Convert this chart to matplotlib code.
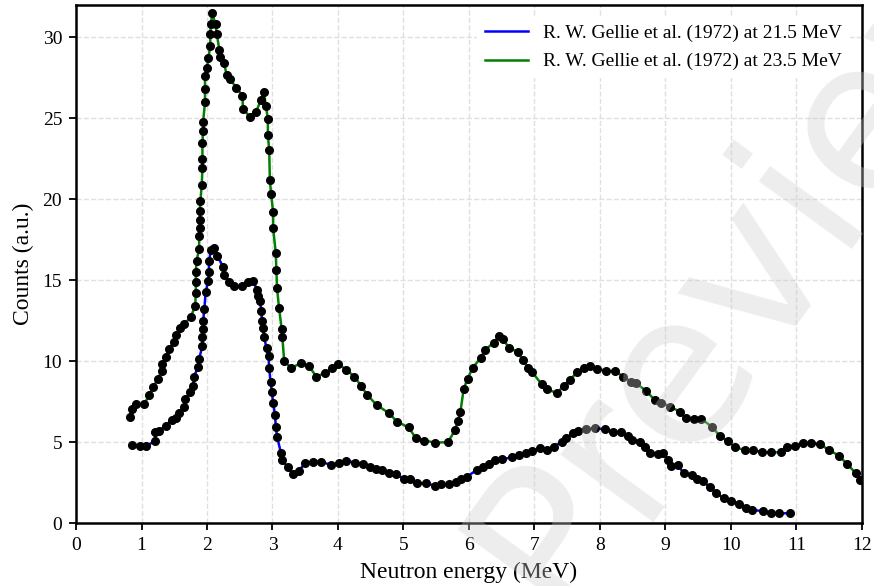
import matplotlib
matplotlib.use('Agg')
import matplotlib.pyplot as plt

# R. W. Gellie et al. (1972), 21.5 MeV
e_215 = [0.85, 0.97, 1.07, 1.21, 1.20, 1.27, 1.37, 1.46, 1.52, 1.58,
         1.65, 1.67, 1.74, 1.79, 1.80, 1.86, 1.88, 1.93, 1.93, 1.94,
         1.94, 1.96, 1.98, 2.02, 2.03, 2.03, 2.06, 2.11, 2.16, 2.25,
         2.26, 2.33, 2.41, 2.54, 2.63, 2.71, 2.76, 2.78, 2.81, 2.83,
         2.84, 2.85, 2.87, 2.91, 2.94, 2.95, 2.97, 2.99, 3.01, 3.04,
         3.05, 3.07, 3.13, 3.15, 3.23, 3.32, 3.40, 3.50, 3.62, 3.74,
         3.89, 4.02, 4.13, 4.26, 4.38, 4.49, 4.58, 4.67, 4.78, 4.89,
         5.01, 5.10, 5.20, 5.34, 5.48, 5.57, 5.69, 5.81, 5.88, 5.97,
         6.12, 6.21, 6.30, 6.40, 6.51, 6.66, 6.76, 6.87, 6.97, 7.08,
         7.20, 7.30, 7.42, 7.49, 7.59, 7.67, 7.79, 7.92, 8.08, 8.20,
         8.33, 8.43, 8.49, 8.61, 8.69, 8.76, 8.89, 8.96, 9.04, 9.09,
         9.19, 9.28, 9.41, 9.49, 9.57, 9.68, 9.78, 9.89, 10.00, 10.13,
         10.23, 10.33, 10.49, 10.61, 10.74, 10.90]
c_215 = [4.82, 4.76, 4.76, 5.07, 5.61, 5.71, 6.02, 6.37, 6.51, 6.78,
         7.19, 7.65, 8.08, 8.49, 9.01, 9.63, 10.14, 10.95, 11.46, 11.98,
         12.45, 13.23, 14.27, 14.98, 15.50, 16.16, 16.85, 16.99, 16.47, 15.81,
         15.34, 14.89, 14.61, 14.61, 14.89, 14.97, 14.41, 14.04, 13.69, 13.07,
         12.45, 12.04, 11.52, 10.80, 10.29, 9.57, 8.74, 8.12, 7.40, 6.68,
         5.96, 5.34, 4.31, 3.90, 3.44, 3.03, 3.22, 3.69, 3.79, 3.79,
         3.59, 3.69, 3.85, 3.73, 3.63, 3.44, 3.34, 3.28, 3.11, 3.01,
         2.72, 2.72, 2.46, 2.46, 2.31, 2.39, 2.39, 2.52, 2.70, 2.86,
         3.28, 3.44, 3.65, 3.90, 3.94, 4.06, 4.21, 4.35, 4.47, 4.62,
         4.51, 4.72, 5.03, 5.28, 5.55, 5.71, 5.79, 5.86, 5.79, 5.61,
         5.61, 5.38, 5.13, 5.03, 4.68, 4.31, 4.27, 4.31, 3.90, 3.55,
         3.59, 3.07, 2.97, 2.70, 2.60, 2.21, 1.84, 1.53, 1.36, 1.16,
         0.91, 0.80, 0.74, 0.60, 0.60, 0.60]

# R. W. Gellie et al. (1972), 23.5 MeV
e_235 = [0.82, 0.85, 0.92, 1.04, 1.12, 1.18, 1.25, 1.31, 1.31, 1.37,
         1.42, 1.49, 1.52, 1.59, 1.65, 1.75, 1.82, 1.83, 1.83, 1.83,
         1.84, 1.88, 1.88, 1.89, 1.89, 1.89, 1.90, 1.92, 1.93, 1.93,
         1.93, 1.94, 1.94, 1.97, 1.97, 1.97, 2.00, 2.02, 2.05, 2.05,
         2.06, 2.08, 2.13, 2.15, 2.19, 2.20, 2.26, 2.30, 2.35, 2.45,
         2.54, 2.55, 2.65, 2.75, 2.82, 2.87, 2.90, 2.93, 2.93, 2.95,
         2.96, 2.98, 3.01, 3.01, 3.05, 3.06, 3.07, 3.10, 3.14, 3.15,
         3.18, 3.29, 3.43, 3.56, 3.67, 3.80, 3.91, 4.00, 4.13, 4.25,
         4.35, 4.45, 4.59, 4.78, 4.90, 5.08, 5.19, 5.32, 5.48, 5.68,
         5.79, 5.83, 5.87, 5.92, 5.98, 6.06, 6.18, 6.25, 6.38, 6.46,
         6.52, 6.61, 6.75, 6.82, 6.91, 6.97, 7.11, 7.20, 7.34, 7.45,
         7.54, 7.65, 7.76, 7.85, 7.95, 8.09, 8.23, 8.36, 8.47, 8.55,
         8.70, 8.84, 8.94, 9.07, 9.22, 9.31, 9.44, 9.55, 9.72, 9.83,
         9.95, 10.07, 10.21, 10.34, 10.48, 10.62, 10.76, 10.86, 10.98, 11.10,
         11.22, 11.36, 11.50, 11.65, 11.78, 11.91, 11.97]
c_235 = [6.57, 7.05, 7.34, 7.34, 7.92, 8.43, 8.90, 9.40, 9.83, 10.25,
         10.74, 11.20, 11.63, 12.04, 12.29, 12.70, 13.42, 14.20, 14.90, 15.50,
         16.20, 16.90, 17.70, 18.20, 18.70, 19.25, 19.90, 20.90, 21.90, 22.50,
         23.50, 24.20, 24.75, 26.00, 26.80, 27.60, 28.10, 28.70, 29.45, 30.20,
         30.80, 31.50, 30.80, 30.20, 29.20, 28.80, 28.40, 27.70, 27.40, 26.90,
         26.40, 25.60, 25.10, 25.40, 26.10, 26.60, 25.75, 24.97, 23.95, 23.07,
         21.20, 20.30, 19.20, 18.20, 16.70, 15.60, 14.50, 13.30, 12.00, 11.50,
         9.98, 9.57, 9.88, 9.67, 9.05, 9.26, 9.57, 9.83, 9.46, 9.05,
         8.49, 7.90, 7.30, 6.78, 6.27, 5.90, 5.24, 5.09, 4.97, 4.99,
         5.75, 6.31, 6.85, 8.28, 8.92, 9.60, 10.20, 10.70, 11.15, 11.56,
         11.36, 10.84, 10.55, 10.08, 9.57, 9.30, 8.58, 8.27, 8.02, 8.47,
         8.84, 9.30, 9.57, 9.67, 9.52, 9.42, 9.36, 9.05, 8.74, 8.64,
         8.18, 7.60, 7.44, 7.19, 6.88, 6.47, 6.43, 6.43, 5.92, 5.38,
         5.07, 4.68, 4.51, 4.51, 4.37, 4.37, 4.37, 4.72, 4.78, 4.93,
         4.97, 4.87, 4.51, 4.16, 3.63, 3.07, 2.66]

serif = ['Liberation Serif', 'DejaVu Serif']

fig = plt.figure(figsize=(8.74, 5.86), dpi=100)
ax = fig.add_axes([0.087, 0.1075, 0.899, 0.884])

ax.plot(e_215, c_215, color='blue', linewidth=1.8, zorder=3,
        label='R. W. Gellie et al. (1972) at 21.5 MeV')
ax.plot(e_235, c_235, color='green', linewidth=1.8, zorder=3,
        label='R. W. Gellie et al. (1972) at 23.5 MeV')
ax.plot(e_215, c_215, 'o', color='black', markersize=5.5, zorder=4)
ax.plot(e_235, c_235, 'o', color='black', markersize=5.5, zorder=4)

ax.set_xlim(0, 12)
ax.set_ylim(0, 32)
ax.set_xticks(range(0, 13))
ax.set_yticks(range(0, 31, 5))
ax.grid(True, linestyle='--', color='#e0e0e0', linewidth=1.0)
ax.set_axisbelow(True)

for side in ['left', 'bottom', 'top', 'right']:
    ax.spines[side].set_linewidth(1.8)
ax.tick_params(direction='out', length=5, width=1.3, labelsize=14, pad=5)
for lab in ax.get_xticklabels() + ax.get_yticklabels():
    lab.set_family(serif)

ax.set_xlabel('Neutron energy (MeV)', fontsize=17, family=serif, labelpad=6)
ax.set_ylabel('Counts (a.u.)', fontsize=17, family=serif, labelpad=6)

leg = ax.legend(loc='upper right', frameon=True, framealpha=1.0,
                edgecolor='none', prop={'family': serif, 'size': 14},
                handlelength=2.2, borderaxespad=0.6, labelspacing=0.55)

# watermark
fig.text(0.865, 0.567, 'Preview', fontsize=152, color='#cccccc', alpha=0.35,
         rotation=54, ha='center', va='center', zorder=10)

fig.savefig('out.png', dpi=100)
